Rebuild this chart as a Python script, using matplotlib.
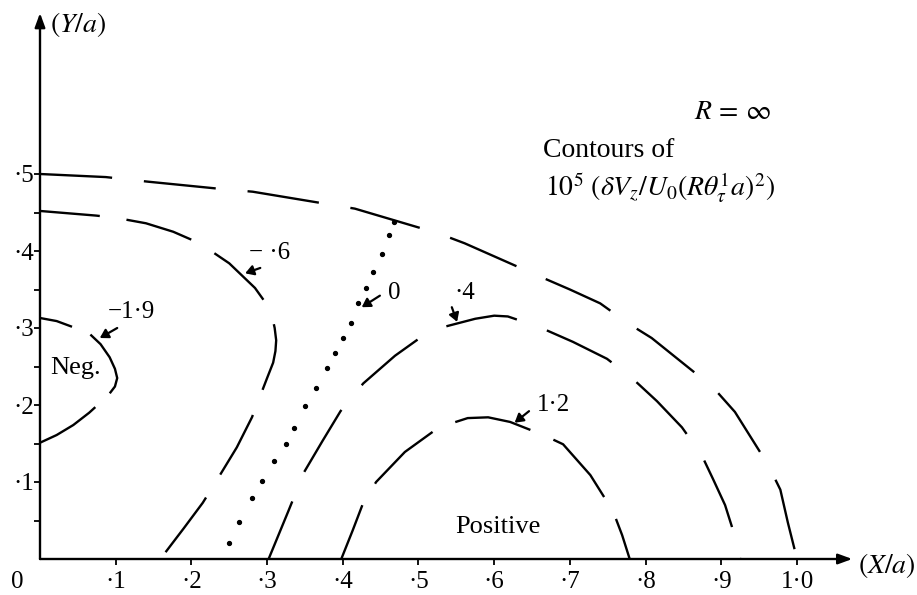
import matplotlib
matplotlib.use("Agg")
import matplotlib.pyplot as plt

plt.rcParams['font.family'] = ['Liberation Serif', 'DejaVu Serif']
plt.rcParams['mathtext.fontset'] = 'stix'
plt.rcParams['lines.scale_dashes'] = False

# ---- contour lines in (X/a, Y/a) ----
boundary_x = [0.0, 0.087, 0.143, 0.235, 0.281, 0.367, 0.416, 0.526, 0.561, 0.66,
              0.70, 0.74, 0.777, 0.808, 0.889, 0.918, 0.962, 0.978, 0.988, 1.0]
boundary_y = [0.5, 0.496, 0.490, 0.481, 0.477, 0.463, 0.455, 0.423, 0.410, 0.367,
              0.350, 0.332, 0.306, 0.287, 0.223, 0.191, 0.122, 0.090, 0.047, 0.0]

neg06_x = [0.0, 0.074, 0.101, 0.14, 0.176, 0.211, 0.25, 0.284, 0.30, 0.306, 0.310,
           0.312, 0.311, 0.308, 0.30, 0.28, 0.26, 0.234, 0.215, 0.19, 0.159]
neg06_y = [0.452, 0.446, 0.443, 0.436, 0.425, 0.410, 0.384, 0.352, 0.33, 0.318, 0.30,
           0.284, 0.27, 0.255, 0.235, 0.184, 0.145, 0.103, 0.073, 0.04, 0.0]

neg19_x = [0.0, 0.022, 0.044, 0.066, 0.080, 0.092, 0.099, 0.102, 0.099, 0.092, 0.084,
           0.065, 0.044, 0.022, 0.0]
neg19_y = [0.313, 0.309, 0.301, 0.292, 0.279, 0.262, 0.247, 0.235, 0.224, 0.215, 0.207,
           0.190, 0.174, 0.161, 0.151]

zero_x = [0.25, 0.263, 0.28, 0.293, 0.309, 0.325, 0.335, 0.35, 0.365, 0.379, 0.39,
          0.40, 0.411, 0.42, 0.431, 0.44, 0.452, 0.461, 0.468]
zero_y = [0.021, 0.048, 0.079, 0.101, 0.127, 0.149, 0.17, 0.199, 0.222, 0.248, 0.268,
          0.287, 0.306, 0.332, 0.352, 0.373, 0.396, 0.421, 0.438]

pos04_x = [0.302, 0.315, 0.328, 0.349, 0.373, 0.397, 0.427, 0.469, 0.506, 0.532, 0.575,
           0.600, 0.618, 0.66, 0.704, 0.749, 0.782, 0.815, 0.848, 0.874, 0.889, 0.905,
           0.914, 0.925]
pos04_y = [0.0, 0.031, 0.062, 0.113, 0.153, 0.192, 0.228, 0.264, 0.29, 0.301, 0.312,
           0.316, 0.315, 0.301, 0.282, 0.26, 0.235, 0.205, 0.171, 0.135, 0.104, 0.07,
           0.042, 0.0]

pos12_x = [0.398, 0.413, 0.427, 0.444, 0.482, 0.527, 0.565, 0.592, 0.621, 0.665, 0.691,
           0.727, 0.757, 0.769, 0.779]
pos12_y = [0.0, 0.037, 0.073, 0.1, 0.139, 0.171, 0.183, 0.184, 0.178, 0.161, 0.149,
           0.109, 0.062, 0.031, 0.0]

# ---- axis ticks ----
x_ticks = [0.1, 0.2, 0.3, 0.4, 0.5, 0.6, 0.7, 0.8, 0.9, 1.0]
x_tick_labels = ['·1', '·2', '·3', '·4', '·5', '·6', '·7', '·8', '·9', '1·0']
y_ticks = [0.1, 0.2, 0.3, 0.4, 0.5]
y_tick_labels = ['·1', '·2', '·3', '·4', '·5']
y_minor_ticks = [0.05, 0.15, 0.25, 0.35, 0.45]

fig = plt.figure(figsize=(9.17, 5.95), dpi=100)
ax = fig.add_axes([0, 0, 1, 1])
ax.set_xlim(-40 / 757, 877 / 757)
ax.set_ylim(-36 / 770, 559 / 770)

LW = 1.7
ax.plot(boundary_x, boundary_y, color='k', lw=LW, linestyle=(0, (52, 23)))
ax.plot(neg06_x, neg06_y, color='k', lw=LW, linestyle=(5.8, (49, 19.4)))
ax.plot(neg19_x, neg19_y, color='k', lw=LW, linestyle=(26, (50, 14.4)))
ax.plot(pos04_x, pos04_y, color='k', lw=LW, linestyle=(7.2, (52, 23)))
ax.plot(pos12_x, pos12_y, color='k', lw=LW, linestyle=(14.4, (56, 18)))
ax.plot(zero_x, zero_y, linestyle='none', marker='o', ms=2.8, color='k')

# axes with arrowheads
for spine in ax.spines.values():
    spine.set_visible(False)
ax.spines['left'].set_position(('data', 0))
ax.spines['bottom'].set_position(('data', 0))
axis_arrow = dict(arrowstyle='-|>,head_length=0.6,head_width=0.22', lw=1.7,
                  color='k', shrinkA=0, shrinkB=0, mutation_scale=14)
ax.annotate('', xy=(1.073, 0), xytext=(0, 0), arrowprops=axis_arrow)
ax.annotate('', xy=(0, 0.709), xytext=(0, 0), arrowprops=axis_arrow)

ax.set_xticks(x_ticks, labels=x_tick_labels)
ax.set_yticks(y_ticks, labels=y_tick_labels)
ax.set_yticks(y_minor_ticks, minor=True)
ax.tick_params(axis='both', which='both', direction='out', length=4, width=1.3,
               labelsize=18, color='k')
ax.tick_params(axis='x', pad=5)
ax.tick_params(axis='y', pad=0.5)
ax.tick_params(top=False, right=False)
ax.text(-0.03, -0.030, '0', fontsize=18, ha='center', va='center')

ax.text(1.081, -0.008, r'$(X/a)$', fontsize=20, ha='left', va='center')
ax.text(0.013, 0.694, r'$(Y/a)$', fontsize=20, ha='left', va='center')

# contour labels with pointer arrows
lab_arrow = dict(arrowstyle='-|>,head_length=0.5,head_width=0.3', lw=1.6,
                 color='k', shrinkA=0, shrinkB=0, mutation_scale=10)
ax.text(0.276, 0.397, '− ·6', fontsize=18, ha='left', va='center')
ax.annotate('', xy=(0.271, 0.371), xytext=(0.291, 0.378), arrowprops=lab_arrow)
ax.text(0.089, 0.321, '−1·9', fontsize=18, ha='left', va='center')
ax.annotate('', xy=(0.079, 0.287), xytext=(0.102, 0.300), arrowprops=lab_arrow)
ax.text(0.46, 0.345, '0', fontsize=18, ha='left', va='center')
ax.annotate('', xy=(0.425, 0.327), xytext=(0.449, 0.342), arrowprops=lab_arrow)
ax.text(0.548, 0.345, '·4', fontsize=18, ha='left', va='center')
ax.annotate('', xy=(0.551, 0.308), xytext=(0.544, 0.327), arrowprops=lab_arrow)
ax.text(0.657, 0.200, '1·2', fontsize=18, ha='left', va='center')
ax.annotate('', xy=(0.627, 0.177), xytext=(0.646, 0.192), arrowprops=lab_arrow)

ax.text(0.013, 0.248, 'Neg.', fontsize=19, ha='left', va='center')
ax.text(0.605, 0.042, 'Positive', fontsize=19, ha='center', va='center')

ax.text(0.914, 0.580, r'$R\,=\,\infty$', fontsize=20, ha='center', va='center')
ax.text(0.664, 0.531, 'Contours of', fontsize=20, ha='left', va='center')
ax.text(0.667, 0.482, r'$10^5\ (\delta V_z/U_0(R\theta^{1}_{\tau}a)^2)$',
        fontsize=20, ha='left', va='center')

fig.savefig('out.png', dpi=100)
